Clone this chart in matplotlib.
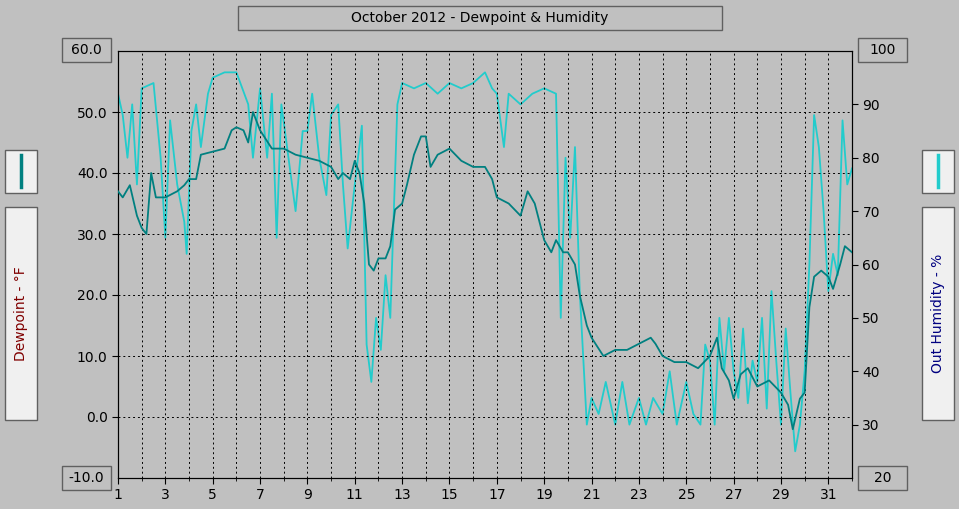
import matplotlib
matplotlib.use("Agg")
import matplotlib.pyplot as plt
from matplotlib.patches import Rectangle

# --- data (day of month, value) ---
dew_day = [1.0, 1.2, 1.5, 1.8, 2.0, 2.2, 2.4, 2.6, 3.0, 3.5, 3.8, 4.0, 4.3, 4.5, 5.0,
           5.5, 5.8, 6.0, 6.3, 6.5, 6.7, 7.0, 7.5, 8.0, 8.5, 9.0, 9.5, 10.0, 10.3, 10.5,
           10.8, 11.0, 11.2, 11.4, 11.6, 11.8, 12.0, 12.3, 12.5, 12.7, 13.0, 13.2, 13.5,
           13.8, 14.0, 14.2, 14.5, 15.0, 15.5, 16.0, 16.5, 16.8, 17.0, 17.5, 18.0, 18.3,
           18.6, 19.0, 19.3, 19.5, 19.8, 20.0, 20.3, 20.5, 20.8, 21.0, 21.5, 22.0, 22.5,
           23.0, 23.5, 23.7, 24.0, 24.5, 25.0, 25.5, 26.0, 26.3, 26.5, 26.8, 27.0, 27.3,
           27.6, 28.0, 28.5, 29.0, 29.3, 29.5, 29.8, 30.0, 30.2, 30.4, 30.7, 31.0, 31.2,
           31.5, 31.7, 32.0]
dewpoint = [37, 36, 38, 33, 31, 30, 40, 36, 36, 37, 38, 39, 39, 43, 43.5,
            44, 47, 47.5, 47, 45, 50, 47, 44, 44, 43, 42.5, 42, 41, 39, 40,
            39, 42, 40, 35, 25, 24, 26, 26, 28, 34, 35, 38, 43,
            46, 46, 41, 43, 44, 42, 41, 41, 39, 36, 35, 33, 37,
            35, 29, 27, 29, 27, 27, 25, 20, 15, 13, 10, 11, 11,
            12, 13, 12, 10, 9, 9, 8, 10, 13, 8, 6, 3, 7,
            8, 5, 6, 4, 2, -2, 3, 4, 18, 23, 24, 23, 21,
            25, 28, 27]

hum_day = [1.0, 1.2, 1.4, 1.6, 1.8, 2.0, 2.5, 2.8, 3.0, 3.2, 3.5, 3.8, 3.9, 4.1, 4.3,
           4.5, 4.8, 5.0, 5.5, 6.0, 6.5, 6.7, 7.0, 7.3, 7.5, 7.7, 7.9, 8.2, 8.5, 8.8,
           9.0, 9.2, 9.5, 9.8, 10.0, 10.3, 10.5, 10.7, 11.0, 11.3, 11.5, 11.7, 11.9,
           12.1, 12.3, 12.5, 12.8, 13.0, 13.5, 14.0, 14.5, 15.0, 15.5, 16.0, 16.5,
           16.8, 17.0, 17.3, 17.5, 18.0, 18.5, 19.0, 19.5, 19.7, 19.9, 20.1, 20.3,
           20.5, 20.8, 21.0, 21.3, 21.6, 22.0, 22.3, 22.6, 23.0, 23.3, 23.6, 24.0,
           24.3, 24.6, 25.0, 25.3, 25.6, 25.8, 26.0, 26.2, 26.4, 26.6, 26.8, 27.0,
           27.2, 27.4, 27.6, 27.8, 28.0, 28.2, 28.4, 28.6, 28.8, 29.0, 29.2, 29.4,
           29.6, 29.8, 30.0, 30.2, 30.4, 30.6, 30.8, 31.0, 31.2, 31.4, 31.6, 31.8, 32.0]
humidity = [92, 88, 80, 90, 75, 93, 94, 80, 65, 87, 75, 68, 62, 85, 90,
            82, 92, 95, 96, 96, 90, 80, 93, 80, 92, 65, 90, 80, 70, 85,
            85, 92, 80, 73, 88, 90, 75, 63, 75, 86, 45, 38, 50,
            44, 58, 50, 90, 94, 93, 94, 92, 94, 93, 94, 96,
            93, 92, 82, 92, 90, 92, 93, 92, 50, 80, 65, 82,
            55, 30, 35, 32, 38, 30, 38, 30, 35, 30, 35, 32,
            40, 30, 38, 32, 30, 45, 42, 30, 50, 40, 50, 40,
            35, 48, 34, 42, 38, 50, 33, 55, 42, 30, 48, 36,
            25, 30, 40, 60, 88, 82, 70, 55, 62, 58, 87, 75, 78]

day_ticks = list(range(1, 32, 2))
dew_ticks = [0, 10, 20, 30, 40, 50]
hum_ticks = [30, 40, 50, 60, 70, 80, 90]

BG = "#c0c0c0"
DEW_C = "#008080"
HUM_C = "#22cccc"

W, H = 959, 509
fig = plt.figure(figsize=(W / 100, H / 100), dpi=100, facecolor=BG)
ax = fig.add_axes([118 / W, 1 - 478 / H, (852 - 118) / W, (478 - 51) / H])
ax.set_facecolor(BG)
ax2 = ax.twinx()

ax.plot(dew_day, dewpoint, color=DEW_C, lw=1.3, zorder=3)
ax2.plot(hum_day, humidity, color=HUM_C, lw=1.3)
ax.set_zorder(ax2.get_zorder() + 1)
ax.patch.set_visible(False)
ax2.patch.set_facecolor(BG)

ax.set_xlim(1, 32)
ax.set_ylim(-10, 60)
ax2.set_ylim(20, 100)
ax.set_xticks(day_ticks)
ax.set_xticks(range(1, 33), minor=True)
ax.set_yticks(dew_ticks)
ax.set_yticklabels([f"{v:.1f}" for v in dew_ticks])
ax2.set_yticks(hum_ticks)
ax.grid(True, which="both", axis="x", color="black", ls=(0, (2, 3)), lw=0.7)
ax.grid(True, axis="y", color="black", ls=(0, (2, 3)), lw=0.7)
ax.tick_params(labelsize=10, length=4)
ax2.tick_params(labelsize=10, length=4)
for a in (ax, ax2):
    for sp in a.spines.values():
        sp.set_color("black")


def box(x0, y0, x1, y1, text=None, fs=10, color="black", rot=0, fill=BG):
    fig.patches.append(Rectangle((x0 / W, 1 - y1 / H), (x1 - x0) / W, (y1 - y0) / H,
                                 transform=fig.transFigure, fc=fill, ec="#606060", lw=1))
    if text:
        fig.text((x0 + x1) / 2 / W, 1 - (y0 + y1) / 2 / H, text, ha="center",
                 va="center", fontsize=fs, color=color, rotation=rot)


box(238, 6, 722, 30, "October 2012 - Dewpoint & Humidity", fs=10)
box(62, 38, 111, 62, "60.0")
box(62, 466, 111, 490, "-10.0")
box(858, 38, 907, 62, "100")
box(858, 466, 907, 490, "20")
box(5, 150, 37, 193, fill="#f0f0f0")
box(5, 207, 37, 420, "Dewpoint - °F", color="#800000", rot=90, fill="#f0f0f0")
box(922, 150, 954, 193, fill="#f0f0f0")
box(922, 207, 954, 420, "Out Humidity - %", color="#000080", rot=90, fill="#f0f0f0")
fig.lines.append(plt.Line2D([21 / W, 21 / W], [1 - 155 / H, 1 - 187 / H],
                            transform=fig.transFigure, color=DEW_C, lw=2.5))
fig.lines.append(plt.Line2D([938 / W, 938 / W], [1 - 155 / H, 1 - 187 / H],
                            transform=fig.transFigure, color=HUM_C, lw=2.5))

fig.savefig("out.png", dpi=100, facecolor=BG)
